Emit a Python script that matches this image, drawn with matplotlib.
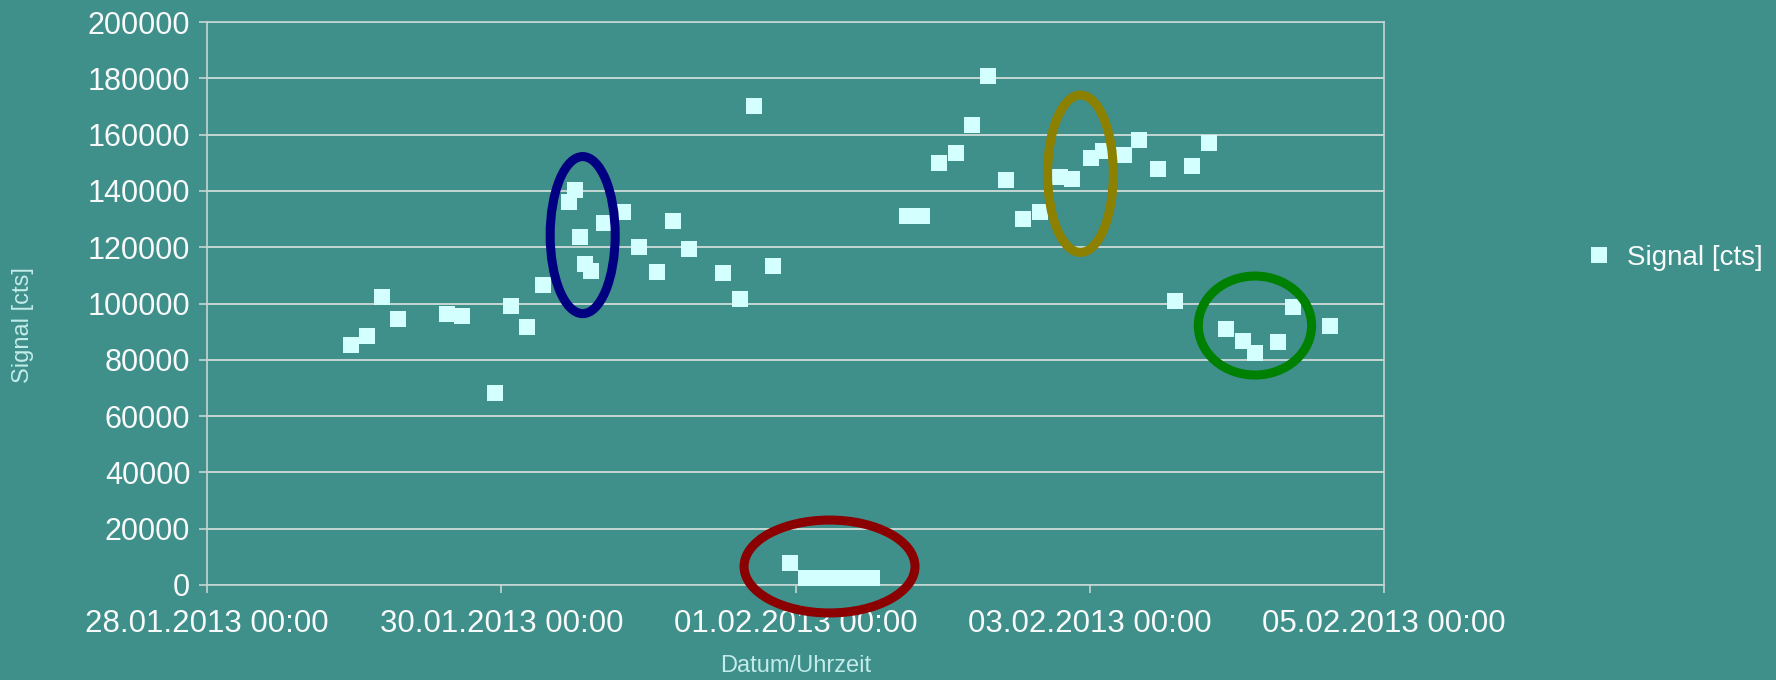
import matplotlib
matplotlib.use("Agg")
import matplotlib.pyplot as plt
import matplotlib.dates as mdates
from matplotlib.patches import Ellipse
import pandas as pd

# ── Data ───────────────────────────────────────────────────────────────────
timestamps = [
    "2013-01-28 23:27", "2013-01-29 02:02", "2013-01-29 04:32", "2013-01-29 07:12",
    "2013-01-29 15:06", "2013-01-29 17:38", "2013-01-29 22:58", "2013-01-30 01:38",
    "2013-01-30 04:15", "2013-01-30 06:52", "2013-01-30 11:07", "2013-01-30 11:59",
    "2013-01-30 12:50", "2013-01-30 13:39", "2013-01-30 14:36", "2013-01-30 16:45",
    "2013-01-30 19:55", "2013-01-30 22:28", "2013-01-31 01:22", "2013-01-31 04:03",
    "2013-01-31 06:40", "2013-01-31 12:10", "2013-01-31 14:54", "2013-01-31 17:17",
    "2013-01-31 20:17", "2013-01-31 23:04", "2013-02-01 01:42", "2013-02-01 03:50",
    "2013-02-01 05:57", "2013-02-01 08:14", "2013-02-01 10:22", "2013-02-01 12:29",
    "2013-02-01 18:09", "2013-02-01 20:36", "2013-02-01 23:24", "2013-02-02 02:08",
    "2013-02-02 04:51", "2013-02-02 07:26", "2013-02-02 10:24", "2013-02-02 13:09",
    "2013-02-02 15:53", "2013-02-02 19:12", "2013-02-02 21:09", "2013-02-03 00:09",
    "2013-02-03 02:07", "2013-02-03 05:38", "2013-02-03 08:00", "2013-02-03 11:08",
    "2013-02-03 13:51", "2013-02-03 16:38", "2013-02-03 19:28", "2013-02-03 22:13",
    "2013-02-04 01:03", "2013-02-04 02:57", "2013-02-04 06:39", "2013-02-04 09:13",
    "2013-02-04 15:12",
]
signal = [
    85350, 88550, 102300, 94600,
    96150, 95440, 68300, 99200,
    91530, 106450, 136150, 140300,
    123600, 114000, 111400, 128470,
    132380, 119950, 111070, 129400,
    119350, 110700, 101600, 170000,
    113400, 7800, 2400, 2400,
    2400, 2400, 2400, 2400,
    131000, 131000, 149900, 153300,
    163300, 180700, 143860, 130000,
    132400, 145000, 144100, 151600,
    154150, 152850, 158200, 147870,
    101000, 148700, 157000, 91040,
    86800, 82300, 86400, 98600,
    92000,
]

# highlighted groups: centre time, centre value, width (days), height (cts), colour
circle_centres = ["2013-01-30 13:17", "2013-02-02 22:29", "2013-02-04 02:57", "2013-02-01 05:33"]
circle_values = [124300, 146100, 92170, 6570]
circle_widths = [0.442, 0.447, 0.770, 1.162]
circle_heights = [55800, 55900, 35170, 33000]
circle_colors = ["#000080", "#8B8000", "#008000", "#8B0000"]

x_ticks = ["2013-01-28", "2013-01-30", "2013-02-01", "2013-02-03", "2013-02-05"]
y_ticks = list(range(0, 200001, 20000))

# ── Style ──────────────────────────────────────────────────────────────────
BG_COLOR = "#3F8F8B"
MARKER_COLOR = "#D4FFFF"
GRID_COLOR = "#C4D6D4"
TEXT_COLOR = "#F8FAFA"
LABEL_COLOR = "#C2ECEA"
plt.rcParams["font.family"] = ["Liberation Sans", "DejaVu Sans"]

fig = plt.figure(figsize=(17.76, 6.8), dpi=100, facecolor=BG_COLOR)
ax = fig.add_axes([207 / 1776, 1 - 585 / 680, 1177 / 1776, 563 / 680])
ax.set_facecolor(BG_COLOR)

t = pd.to_datetime(timestamps)
ax.plot(t, signal, linestyle="none", marker="s", markersize=12,
        markerfacecolor=MARKER_COLOR, markeredgewidth=0,
        label="Signal [cts]", zorder=3)

for c, v, w, h, col in zip(circle_centres, circle_values, circle_widths,
                           circle_heights, circle_colors):
    e = Ellipse((mdates.date2num(pd.Timestamp(c)), v), w, h, fill=False,
                edgecolor=col, linewidth=6.5, zorder=4, clip_on=False)
    ax.add_patch(e)

# ── Axes ───────────────────────────────────────────────────────────────────
ax.set_xlim(pd.Timestamp(x_ticks[0]), pd.Timestamp(x_ticks[-1]))
ax.set_ylim(0, 200000)
ax.set_xticks(pd.to_datetime(x_ticks))
ax.xaxis.set_major_formatter(mdates.DateFormatter("%d.%m.%Y %H:%M"))
ax.set_yticks(y_ticks)
ax.yaxis.set_major_formatter(matplotlib.ticker.FuncFormatter(lambda v, p: f"{int(v)}"))

ax.grid(axis="y", color=GRID_COLOR, linewidth=1.4)
ax.set_axisbelow(True)
for side in ["left", "bottom", "right", "top"]:
    ax.spines[side].set_color(GRID_COLOR)
    ax.spines[side].set_linewidth(1.2)

ax.tick_params(axis="y", colors=GRID_COLOR, labelcolor=TEXT_COLOR,
               labelsize=22, length=6, width=1.2, pad=6)
ax.tick_params(axis="x", colors=GRID_COLOR, labelcolor=TEXT_COLOR,
               labelsize=22.5, length=6, width=1.2, pad=11)

ax.set_xlabel("Datum/Uhrzeit", fontsize=17, color=LABEL_COLOR)
ax.xaxis.set_label_coords(0.5, -0.125)
ax.set_ylabel("Signal [cts]", fontsize=17, color=LABEL_COLOR)
ax.yaxis.set_label_coords(-0.147, 0.462)

fig.legend(loc="center left", bbox_to_anchor=(1585 / 1776, 1 - 258 / 680),
           frameon=False, fontsize=20, labelcolor=TEXT_COLOR,
           handlelength=1.0, handletextpad=0.5, borderpad=0, borderaxespad=0)

fig.savefig("out.png", dpi=100, facecolor=BG_COLOR)
